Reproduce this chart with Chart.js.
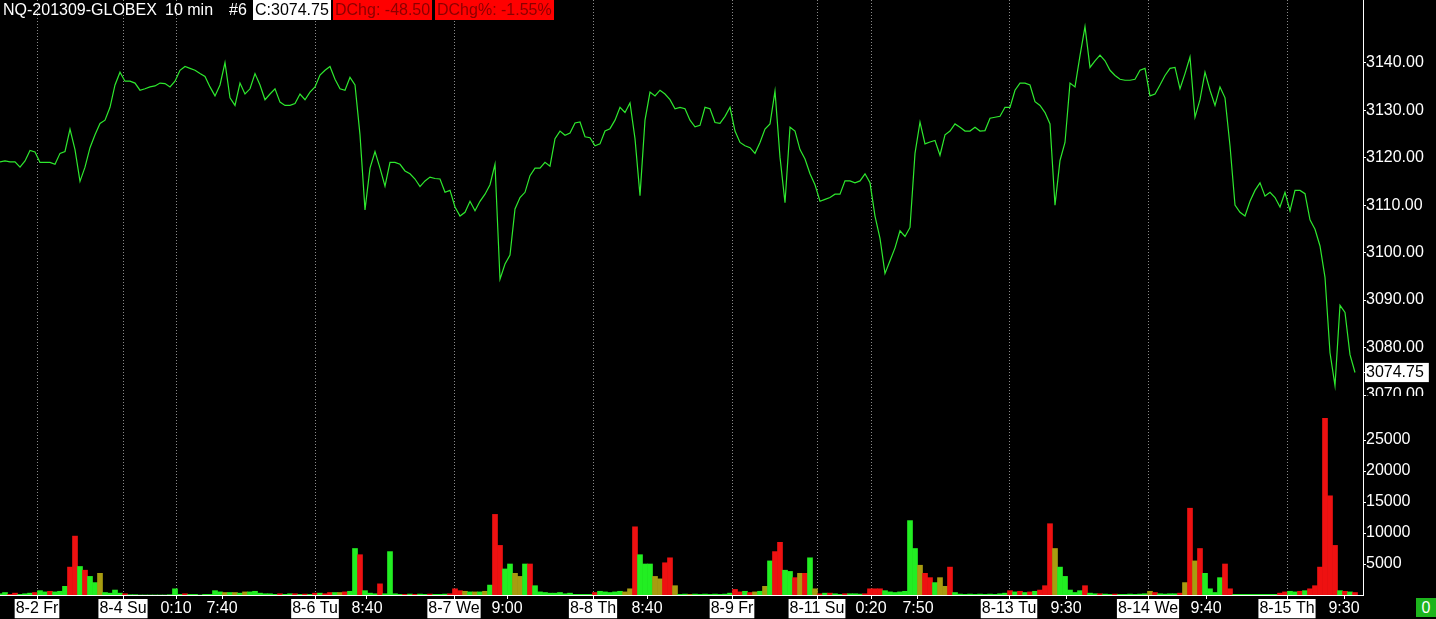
<!DOCTYPE html>
<html>
<head>
<meta charset="utf-8">
<title>NQ-201309-GLOBEX 10 min</title>
<script src="https://cdn.jsdelivr.net/npm/chart.js@4.4.0/dist/chart.umd.min.js"></script>
<style>
  html, body { margin: 0; padding: 0; background: #000; overflow: hidden; }
  body { width: 1436px; height: 619px; position: relative; font-family: "Liberation Sans", Arial, sans-serif; }
  #priceChart { position: absolute; left: 0; top: 0; }
  #volChart { position: absolute; left: 0; top: 396px; }
  .hdr { position: absolute; top: 0; height: 20px; line-height: 20px; font-size: 16px; color: #fff; white-space: nowrap; z-index: 2; }
  .box { padding: 0 2px; }
  .last { background: #fff; color: #000; }
  .chg { background: #f00; color: #8b0000; }
  #zero { position: absolute; left: 1416px; top: 598px; width: 20px; height: 19px; line-height: 19px; text-align: center;
          background: #1db51d; color: #fff; font-size: 16px; }
</style>
</head>
<body>
<span class="hdr" style="left:3px">NQ-201309-GLOBEX</span>
<span class="hdr" style="left:165px">10 min</span>
<span class="hdr" style="left:229px">#6</span>
<span class="hdr box last" style="left:253px">C:3074.75</span>
<span class="hdr box chg" style="left:333px">DChg: -48.50</span>
<span class="hdr box chg" style="left:435px">DChg%: -1.55%</span>
<canvas id="priceChart" width="1436" height="396"></canvas>
<canvas id="volChart" width="1436" height="223"></canvas>
<div id="zero">0</div>
<script>
// 10-minute bars, x = bar number; values read every 5 bars
var STEP = 5;

var price = [
  3119.1, 3119.3, 3119.1, 3119.1, 3118.0, 3119.3, 3121.5, 3121.2, 3119.0, 3119.0,
  3119.0, 3118.6, 3120.9, 3121.3, 3126.0, 3121.7, 3115.0, 3118.0, 3122.1, 3124.8,
  3127.2, 3127.9, 3130.6, 3135.3, 3138.0, 3136.1, 3136.1, 3135.7, 3134.2, 3134.5,
  3134.9, 3135.1, 3135.7, 3135.6, 3134.9, 3136.1, 3138.4, 3139.2, 3138.8, 3138.4,
  3137.7, 3137.1, 3134.9, 3133.0, 3135.3, 3140.0, 3132.6, 3131.0, 3135.7, 3133.4,
  3134.5, 3137.7, 3135.3, 3132.2, 3133.4, 3134.5, 3131.7, 3131.0, 3131.0, 3131.4,
  3133.4, 3132.2, 3133.8, 3134.9, 3137.4, 3138.4, 3139.2, 3136.5, 3134.5, 3134.2,
  3136.9, 3135.3, 3124.8, 3109.0, 3117.8, 3121.3, 3117.8, 3114.0, 3119.0, 3119.0,
  3118.6, 3117.2, 3116.6, 3115.5, 3113.9, 3115.1, 3115.9, 3115.6, 3115.5, 3112.7,
  3113.1, 3109.6, 3107.7, 3108.5, 3110.8, 3108.8, 3110.8, 3112.3, 3114.3, 3118.6,
  3094.4, 3097.6, 3099.5, 3109.2, 3111.6, 3112.7, 3116.2, 3117.8, 3117.8, 3119.0,
  3118.2, 3124.0, 3125.6, 3124.7, 3125.2, 3127.3, 3127.5, 3124.4, 3124.2, 3122.5,
  3122.9, 3125.6, 3126.1, 3127.9, 3130.6, 3129.5, 3131.5, 3124.0, 3112.0, 3127.9,
  3133.8, 3133.0, 3134.2, 3133.4, 3132.2, 3130.3, 3130.6, 3130.3, 3127.9, 3126.5,
  3126.8, 3130.6, 3130.3, 3127.4, 3127.2, 3128.7, 3130.6, 3125.6, 3123.2, 3122.5,
  3122.1, 3120.9, 3123.2, 3126.0, 3127.1, 3134.0, 3120.1, 3110.5, 3126.4, 3125.6,
  3121.7, 3119.7, 3116.6, 3114.3, 3110.8, 3111.2, 3111.6, 3112.3, 3112.3, 3115.1,
  3115.1, 3114.7, 3115.1, 3116.6, 3114.7, 3107.7, 3103.0, 3095.6, 3098.3, 3101.0,
  3104.6, 3103.4, 3105.3, 3120.9, 3127.5, 3122.9, 3123.3, 3123.6, 3120.5, 3124.8,
  3125.6, 3127.1, 3126.4, 3125.6, 3125.6, 3126.4, 3125.6, 3125.7, 3128.3, 3128.5,
  3128.7, 3130.6, 3130.6, 3134.2, 3135.7, 3135.7, 3135.3, 3131.8, 3131.0, 3129.5,
  3127.1, 3110.0, 3119.4, 3123.2, 3135.7, 3134.9, 3141.5, 3147.6, 3139.0, 3140.4,
  3141.6, 3140.4, 3138.4, 3137.3, 3136.5, 3136.3, 3136.3, 3136.5, 3138.4, 3138.8,
  3133.0, 3133.4, 3135.3, 3137.3, 3138.8, 3139.0, 3134.5, 3137.7, 3141.2, 3128.5,
  3132.2, 3138.0, 3134.2, 3131.0, 3134.9, 3132.6, 3122.5, 3110.0, 3108.5, 3107.7,
  3110.8, 3113.1, 3114.7, 3111.9, 3112.7, 3111.6, 3109.6, 3112.7, 3108.8, 3113.1,
  3113.1, 3112.4, 3106.9, 3104.9, 3101.4, 3094.8, 3078.9, 3072.0, 3088.9, 3087.4,
  3078.5, 3074.75
];

var volume = [
  200, 400, 100, 300, 100, 200, 300, 400, 700, 500,
  600, 500, 600, 1400, 4500, 9500, 4600, 4000, 3000, 2000,
  3500, 400, 300, 800, 300, 200, 50, 50, 0, 0,
  0, 0, 0, 0, 50, 1000, 100, 200, 100, 100,
  0, 100, 100, 700, 500, 400, 400, 400, 300, 500,
  500, 600, 300, 200, 200, 100, 200, 100, 200, 200,
  100, 150, 100, 300, 300, 200, 400, 400, 400, 500,
  600, 7500, 6500, 700, 300, 200, 1800, 200, 7000, 200,
  100, 100, 150, 100, 150, 100, 150, 100, 100, 150,
  200, 1000, 700, 600, 500, 500, 500, 600, 1600, 13000,
  8000, 4200, 5000, 3500, 3000, 5000, 5000, 1500, 500, 400,
  300, 300, 400, 200, 300, 100, 100, 100, 100, 400,
  600, 500, 400, 500, 600, 500, 1000, 11000, 6500, 5000,
  5000, 3000, 2600, 5200, 6000, 1500, 100, 150, 100, 150,
  100, 150, 100, 150, 100, 150, 300, 900, 500, 600,
  400, 500, 600, 1400, 5500, 7000, 8500, 4000, 3800, 2800,
  3500, 3500, 6000, 1000, 200, 300, 300, 200, 100, 200,
  200, 200, 150, 200, 1000, 1000, 1000, 700, 500, 400,
  500, 600, 12000, 7500, 4800, 3500, 2800, 2000, 2800, 1400,
  4500, 400, 150, 100, 150, 100, 150, 100, 150, 100,
  200, 300, 700, 500, 600, 400, 500, 600, 800, 1500,
  11500, 7500, 4500, 3000, 800, 400, 700, 1500, 300, 200,
  200, 150, 100, 150, 100, 100, 150, 100, 150, 200,
  600, 400, 200, 150, 200, 200, 300, 2000, 14000, 5500,
  7500, 3500, 1000, 400, 2800, 5000, 1000, 100, 100, 100,
  100, 100, 100, 100, 100, 100, 300, 500, 600, 500,
  600, 700, 1000, 1500, 4500, 28500, 16000, 8000, 700, 600,
  500, 400
];

// 1 = up bar, -1 = down bar, 0 = unchanged
var volDir = [
  1, 1, -1, -1, 1, 1, 1, -1, 1, 1,
  -1, 1, 1, 1, -1, -1, 1, -1, 1, 1,
  0, 1, 1, 1, 1, -1, 1, 1, 1, 1,
  1, 1, 1, 1, 1, 1, 1, -1, 1, 1,
  1, 1, 1, 1, 1, 0, 1, 0, 1, 0,
  1, 1, 1, 1, 1, 1, -1, 1, 1, -1,
  1, -1, 1, -1, 1, -1, -1, 1, 0, -1,
  1, 1, -1, 1, 1, 1, -1, 1, 1, 1,
  1, -1, 1, -1, 1, 1, -1, 1, 1, 1,
  -1, -1, -1, 0, 1, 0, 1, 0, 1, -1,
  -1, 1, 1, 0, 0, 1, -1, 1, 1, 1,
  1, 1, 1, 1, 1, 1, 1, 1, 1, -1,
  1, 1, 1, 1, 1, 0, 0, -1, 1, 1,
  1, 0, 0, -1, -1, 0, 1, 1, 0, 1,
  1, 1, 1, 1, 1, 1, 1, -1, -1, 1,
  -1, 0, 1, 0, 1, -1, -1, 1, 1, -1,
  0, -1, 1, 0, -1, 1, -1, 1, 1, -1,
  1, 1, 1, -1, -1, -1, -1, 1, 1, 1,
  1, 1, 1, 1, 0, -1, -1, 1, 0, 0,
  -1, 1, 1, 1, 1, 1, 1, 1, 1, 1,
  1, 1, -1, 1, -1, 1, -1, 1, -1, -1,
  -1, 0, 1, 1, 1, 1, 1, -1, 1, 1,
  -1, 1, 1, -1, 1, 1, 1, 1, 1, 1,
  0, -1, 1, 1, 1, 1, -1, 0, -1, 0,
  -1, 1, 1, 1, 1, -1, -1, 1, 1, 1,
  1, 1, 1, 1, 1, 1, -1, -1, 1, 1,
  -1, 1, -1, -1, -1, -1, -1, -1, 1, -1,
  1, -1
];

var timeTicks = [37, 123, 176, 222, 315, 367, 454, 507, 593, 647, 732, 817, 871, 918, 1009, 1066, 1148, 1206, 1287, 1344];
var timeLabels = ["8-2 Fr", "8-4 Su", "0:10", "7:40", "8-6 Tu", "8:40", "8-7 We", "9:00", "8-8 Th", "8:40",
                  "8-9 Fr", "8-11 Su", "0:20", "7:50", "8-13 Tu", "9:30", "8-14 We", "9:40", "8-15 Th", "9:30"];
var sessionBreaks = [37, 123, 176, 315, 454, 593, 732, 817, 871, 1009, 1148, 1287];
var priceTicks = [3070, 3080, 3090, 3100, 3110, 3120, 3130, 3140];
var volTicks = [5000, 10000, 15000, 20000, 25000];

var lastPrice = price[price.length - 1];
var XMAX = 1363;
var AXIS_W = 73;
var LINE = "#2ee82e", UP = "#22ee22", DOWN = "#ee1111", FLAT = "#a89c10", GRID = "#8a8a8a";
var FONT = { family: "Liberation Sans", size: 16 };

Chart.defaults.font.family = "Liberation Sans";

function isDate(i) {
    return timeLabels[i] && timeLabels[i].indexOf("-") > 0;
}

function yAxis(opts) {
    var base = {
        position: "right",
        ticks: {
            autoSkip: false,
            padding: 0,
            font: FONT,
            color: "#fff",
        },
        grid: { drawOnChartArea: false, tickLength: 3, tickColor: "#fff" },
        border: { color: "#fff", width: 1 },
        afterFit: function (s) {
            s.width = AXIS_W;
            s.paddingTop = 0;
            s.paddingBottom = 0;
        },
    };
    return Object.assign(base, opts);
}

/** price pane */
new Chart(document.getElementById("priceChart"), {
    type: "line",
    data: {
        datasets: [
            {
                data: price.map(function (v, i) { return { x: i * STEP, y: v }; }),
                borderColor: LINE,
                borderWidth: 1.2,
                pointRadius: 0,
                tension: 0,
                fill: false,
            },
        ],
    },
    options: {
        responsive: false,
        animation: false,
        devicePixelRatio: 1,
        layout: { padding: 0 },
        plugins: { legend: { display: false }, tooltip: { enabled: false } },
        scales: {
            x: {
                type: "linear",
                min: 0,
                max: XMAX,
                afterBuildTicks: function (s) {
                    s.ticks = sessionBreaks.map(function (v) { return { value: v }; });
                },
                ticks: { display: false },
                grid: { color: GRID, drawTicks: false },
                border: { display: false, dash: [1, 2] },
                afterFit: function (s) {
                    s.height = 0;
                    s.paddingLeft = 0;
                    s.paddingRight = 0;
                },
            },
            y: yAxis({
                min: 3069.8,
                max: 3153.2,
                afterBuildTicks: function (s) {
                    s.ticks = priceTicks.concat([lastPrice]).map(function (v) { return { value: v }; });
                },
                ticks: {
                    autoSkip: false,
                    padding: 0,
                    font: FONT,
                    color: function (c) { return c.tick.value === lastPrice ? "#000" : "#fff"; },
                    showLabelBackdrop: function (c) { return c.tick.value === lastPrice; },
                    backdropColor: "#fff",
                    backdropPadding: { top: 0, bottom: 0, left: 1, right: 5 },
                    callback: function (v) { return v.toFixed(2); },
                },
            }),
        },
    },
});

/** volume pane + time axis */
new Chart(document.getElementById("volChart"), {
    type: "bar",
    data: {
        datasets: [
            {
                data: volume.map(function (v, i) { return { x: i * STEP, y: v }; }),
                backgroundColor: volDir.map(function (d) { return d > 0 ? UP : d < 0 ? DOWN : FLAT; }),
                borderWidth: 0,
                barPercentage: 1,
                categoryPercentage: 1,
            },
        ],
    },
    options: {
        responsive: false,
        animation: false,
        devicePixelRatio: 1,
        layout: { padding: 0 },
        plugins: { legend: { display: false }, tooltip: { enabled: false } },
        scales: {
            x: {
                type: "linear",
                offset: false,
                min: 0,
                max: XMAX,
                afterBuildTicks: function (s) {
                    s.ticks = timeTicks.map(function (v) { return { value: v }; });
                },
                ticks: {
                    autoSkip: false,
                    maxRotation: 0,
                    padding: 0,
                    font: FONT,
                    color: function (c) { return isDate(c.index) ? "#000" : "#fff"; },
                    showLabelBackdrop: function (c) { return isDate(c.index); },
                    backdropColor: "#fff",
                    backdropPadding: { top: 0, bottom: 0, left: 1, right: 1 },
                    callback: function (v, i) { return timeLabels[i]; },
                },
                grid: {
                    offset: false,
                    color: function (c) {
                        return c.tick && sessionBreaks.indexOf(c.tick.value) >= 0 ? GRID : "rgba(0,0,0,0)";
                    },
                    tickColor: "#fff",
                    tickLength: 4,
                    tickBorderDash: [],
                },
                border: { color: "#fff", width: 1, dash: [1, 2] },
                afterFit: function (s) {
                    s.height = 24;
                    s.paddingLeft = 0;
                    s.paddingRight = 0;
                },
            },
            y: yAxis({
                min: 0,
                max: 32100,
                afterBuildTicks: function (s) {
                    s.ticks = volTicks.map(function (v) { return { value: v }; });
                },
                ticks: {
                    autoSkip: false,
                    padding: 0,
                    font: FONT,
                    color: "#fff",
                    callback: function (v) { return String(v); },
                },
            }),
        },
    },
});
</script>
</body>
</html>
